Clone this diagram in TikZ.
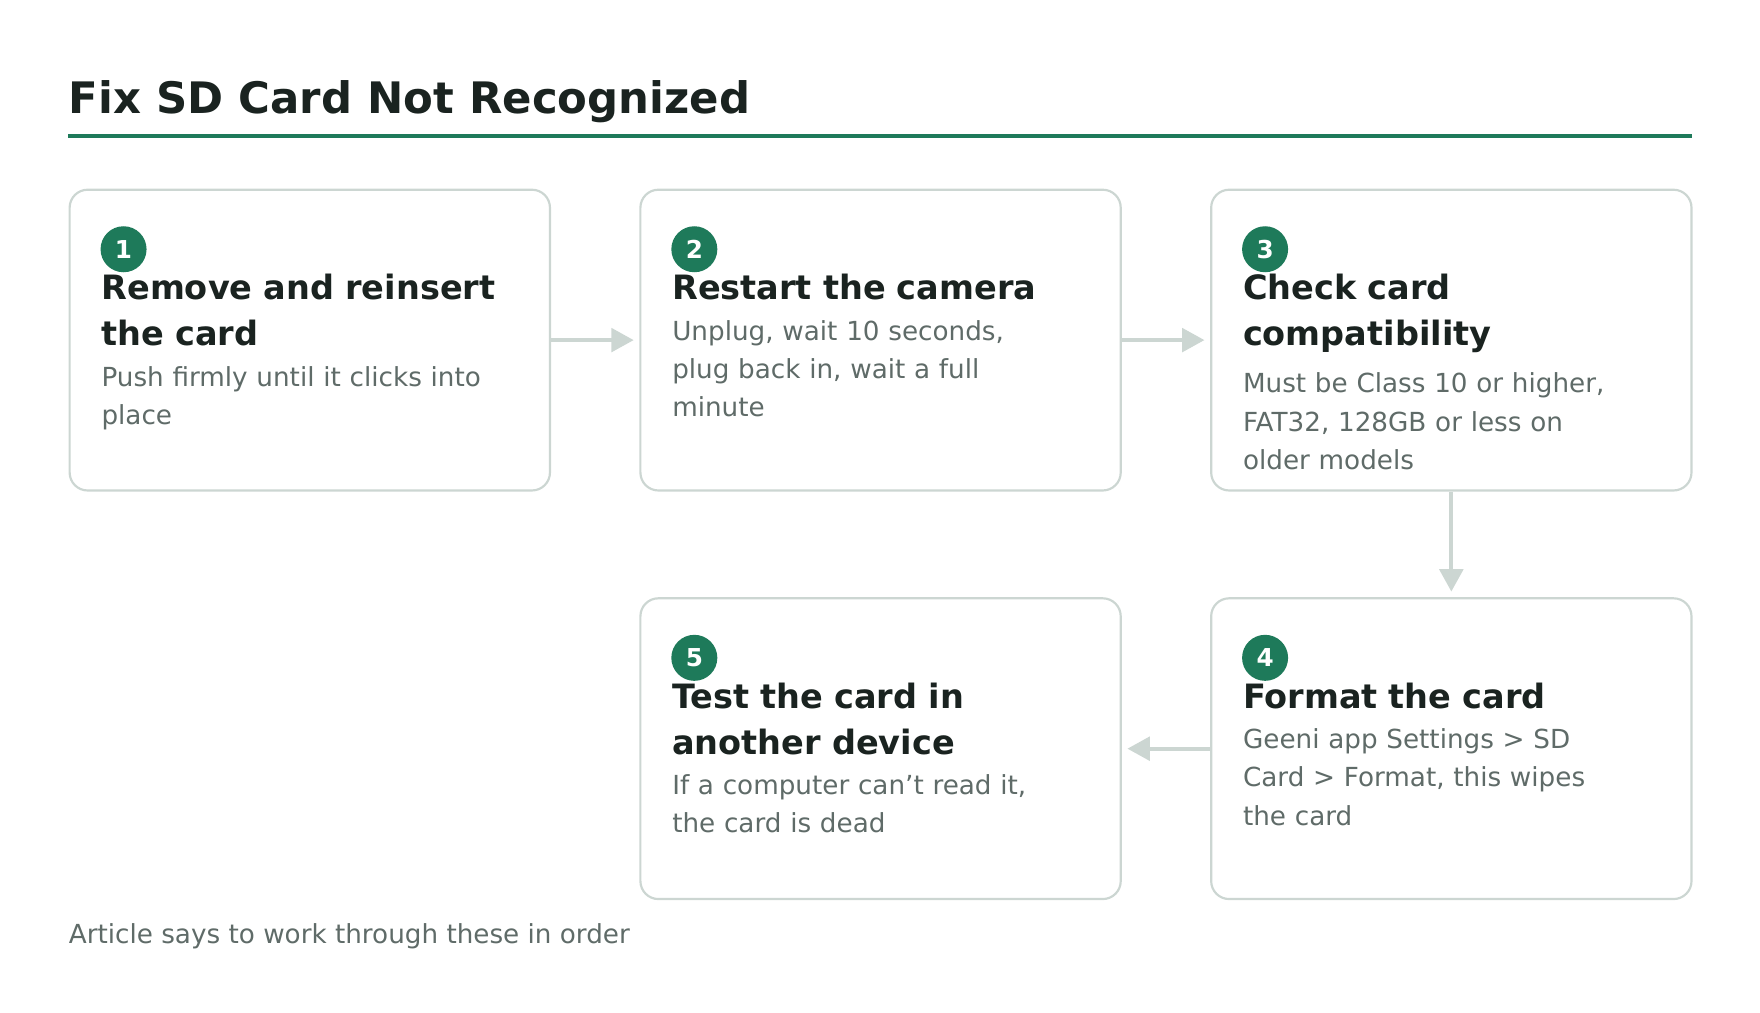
\documentclass[tikz,border=0pt]{standalone}
\usepackage{fontspec}
\setmainfont{DejaVu Sans}
\usetikzlibrary{arrows.meta,positioning,calc}
\definecolor{fixDark}{HTML}{1A2320}
\definecolor{fixGreen}{HTML}{1E7A5A}
\definecolor{fixGray}{HTML}{5F6B68}
\definecolor{fixBorder}{HTML}{CCD6D2}
\tikzset{
    stepbox/.style={
        draw=fixBorder,
        fill=white,
        rectangle,
        rounded corners=0.32cm,
        line width=1.1pt,
        minimum width=8.56cm,
        minimum height=5.36cm
    },
    badge/.style={
        circle,
        fill=fixGreen,
        minimum size=0.82cm,
        inner sep=0pt,
        text=white,
        font=\fontsize{12.5}{14}\selectfont\bfseries
    },
    steptitle/.style={
        anchor=north west,
        inner sep=0pt,
        align=left,
        text width=7.6cm,
        text=fixDark,
        font=\fontsize{17}{23.3}\selectfont\bfseries
    },
    stepbody/.style={
        anchor=north west,
        inner sep=0pt,
        align=left,
        text width=7.6cm,
        text=fixGray,
        font=\fontsize{13.3}{19.4}\selectfont
    },
    arrow/.style={
        -{Triangle[length=0.4cm,width=0.42cm]},
        line width=2pt,
        color=fixBorder,
        shorten >=0.1cm
    }
}
\begin{document}
\begin{tikzpicture}[x=0.02cm,y=-0.02cm]
    \useasboundingbox (0,0) rectangle (1568,902);
    % Header
    \node[anchor=base west, inner sep=0pt, text=fixDark,
        font=\fontsize{22}{26}\selectfont\bfseries] (title) at (61,101) {Fix SD Card Not Recognized};
    \coordinate (ruleL) at (61,121);
    \coordinate (ruleR) at (1507,121);
    \draw[fixGreen, line width=2.3pt] (ruleL) -- (ruleR);

    % Boxes
    \node[stepbox] (b1) at (276,303) {};
    \node[stepbox] (b2) at (784.5,303) {};
    \node[stepbox] (b3) at (1293,303) {};
    \node[stepbox] (b4) at (1293,667) {};
    \node[stepbox] (b5) at (784.5,667) {};

    % Contents
    \foreach \b/\n/\t/\d in {
        b1/1/{Remove and reinsert\\the card}/{Push firmly until it clicks into\\place},
        b2/2/{Restart the camera}/{Unplug, wait 10 seconds,\\plug back in, wait a full\\minute},
        b3/3/{Check card\\compatibility}/{Must be Class 10 or higher,\\FAT32, 128GB or less on\\older models},
        b4/4/{Format the card}/{Geeni app Settings > SD\\Card > Format, this wipes\\the card},
        b5/5/{Test the card in\\another device}/{If a computer can't read it,\\the card is dead}} {
        \node[badge] (\b num) at ($(\b.north west)+(49,54)$) {\n};
        \node[steptitle] (\b title) at ($(\b.north west)+(29,76)$) {\t};
        \node[stepbody, below=0.34cm of \b title.south west, anchor=north west] (\b body) {\d};
    }

    % Arrows
    \draw[arrow] (b1) -- (b2);
    \draw[arrow] (b2) -- (b3);
    \draw[arrow] (b3) -- (b4);
    \draw[arrow] (b4) -- (b5);

    % Footer
    \node[anchor=base west, inner sep=0pt, text=fixGray,
        font=\fontsize{13.3}{16}\selectfont] (note) at (61,841) {Article says to work through these in order};
\end{tikzpicture}
\end{document}
